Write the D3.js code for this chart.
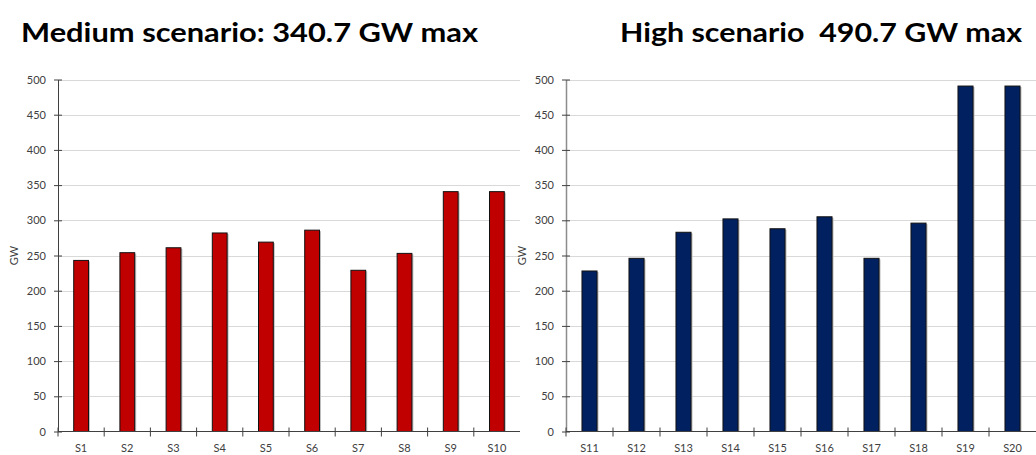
<!DOCTYPE html>
<html>
<head>
<meta charset="utf-8">
<script src="https://cdn.jsdelivr.net/npm/d3@7"></script>
<style>
  html, body { margin: 0; padding: 0; background: #fff; }
  svg { display: block; }
</style>
</head>
<body>
<svg id="chart" width="1036" height="455"></svg>
<script>
// Peak demand per scenario (GW)
const mediumCategories = ["S1", "S2", "S3", "S4", "S5", "S6", "S7", "S8", "S9", "S10"];
const mediumValues = [243, 254, 261, 282, 269, 286, 229, 253, 340.7, 340.7];
const highCategories = ["S11", "S12", "S13", "S14", "S15", "S16", "S17", "S18", "S19", "S20"];
const highValues = [228, 246, 283, 302, 288, 305, 246, 296, 490.7, 490.7];
const yTicks = [0, 50, 100, 150, 200, 250, 300, 350, 400, 450, 500];
const titles = ["Medium scenario: 340.7 GW max", "High scenario  490.7 GW max"];
const axisLabel = "GW";

const svg = d3.select("#chart");
const font = "Lato, 'Open Sans', sans-serif";

function panel(opts) {
  const { x0, x1, cats, vals, fill, title, titleX, titleW, axisColor, axisWidth } = opts;
  const top = 79.5, bottom = 431.5;
  const g = svg.append("g");

  const y = d3.scaleLinear().domain([0, 500]).range([bottom, top]);
  const x = d3.scaleBand().domain(cats).range([x0, x1]).paddingInner(0.68).paddingOuter(0.34);
  const band = (x1 - x0) / cats.length;

  // gridlines
  g.selectAll("line.grid").data(yTicks.filter(d => d > 0)).join("line")
    .attr("x1", x0).attr("x2", x1)
    .attr("y1", d => Math.round(y(d)) + 0.5).attr("y2", d => Math.round(y(d)) + 0.5)
    .attr("stroke", "#d9d9d9").attr("stroke-width", 1);

  // bars with a faint shadow and dark outline
  g.selectAll("rect.shadow").data(vals).join("rect")
    .attr("x", (d, i) => x(cats[i]) + 1.5)
    .attr("y", d => y(d) + 1)
    .attr("width", x.bandwidth())
    .attr("height", d => bottom - y(d) - 1)
    .attr("fill", "#bdbdbd");
  g.selectAll("rect.bar").data(vals).join("rect")
    .attr("x", (d, i) => x(cats[i]))
    .attr("y", d => y(d))
    .attr("width", x.bandwidth())
    .attr("height", d => bottom - y(d))
    .attr("fill", fill)
    .attr("stroke", "#111").attr("stroke-width", 1);

  // y axis
  const yAxis = d3.axisLeft(y).tickValues(yTicks).tickSize(0).tickPadding(12);
  const ya = g.append("g").attr("transform", `translate(${x0},0)`).call(yAxis);
  ya.select(".domain").attr("stroke", axisColor).attr("stroke-width", axisWidth);
  ya.selectAll(".tick text").attr("font-family", font).attr("font-size", 11).attr("fill", "#404040");
  ya.selectAll(".tick").append("line").attr("x1", -4).attr("x2", 4).attr("stroke", "#404040");

  // x axis with tick marks between categories
  g.append("line").attr("x1", x0).attr("x2", x1).attr("y1", bottom).attr("y2", bottom)
    .attr("stroke", "#404040").attr("stroke-width", 1);
  g.selectAll("line.xt").data(d3.range(cats.length)).join("line")
    .attr("x1", i => x0 + i * band).attr("x2", i => x0 + i * band)
    .attr("y1", bottom - 4).attr("y2", bottom + 5)
    .attr("stroke", "#404040");
  g.selectAll("text.xl").data(cats).join("text")
    .attr("x", d => x(d) + x.bandwidth() / 2)
    .attr("y", 452)
    .attr("text-anchor", "middle")
    .attr("font-family", font).attr("font-size", 11).attr("fill", "#404040")
    .text(d => d);

  // axis title
  g.append("text")
    .attr("transform", `translate(${x0 - 40},${y(250)}) rotate(-90)`)
    .attr("text-anchor", "middle")
    .attr("font-family", font).attr("font-size", 11).attr("fill", "#404040")
    .text(axisLabel);

  // chart title
  svg.append("text")
    .attr("x", titleX).attr("y", 42)
    .attr("font-family", font).attr("font-weight", "bold").attr("font-size", 27)
    .attr("fill", "#000")
    .attr("textLength", titleW).attr("lengthAdjust", "spacingAndGlyphs")
    .style("white-space", "pre")
    .text(title);
}

panel({ x0: 58, x1: 520, cats: mediumCategories, vals: mediumValues, fill: "#c00000",
        title: titles[0], titleX: 21, titleW: 457, axisColor: "#404040", axisWidth: 1 });
panel({ x0: 566, x1: 1036, cats: highCategories, vals: highValues, fill: "#002060",
        title: titles[1], titleX: 620, titleW: 402, axisColor: "#8c8c8c", axisWidth: 1.5 });
</script>
</body>
</html>
